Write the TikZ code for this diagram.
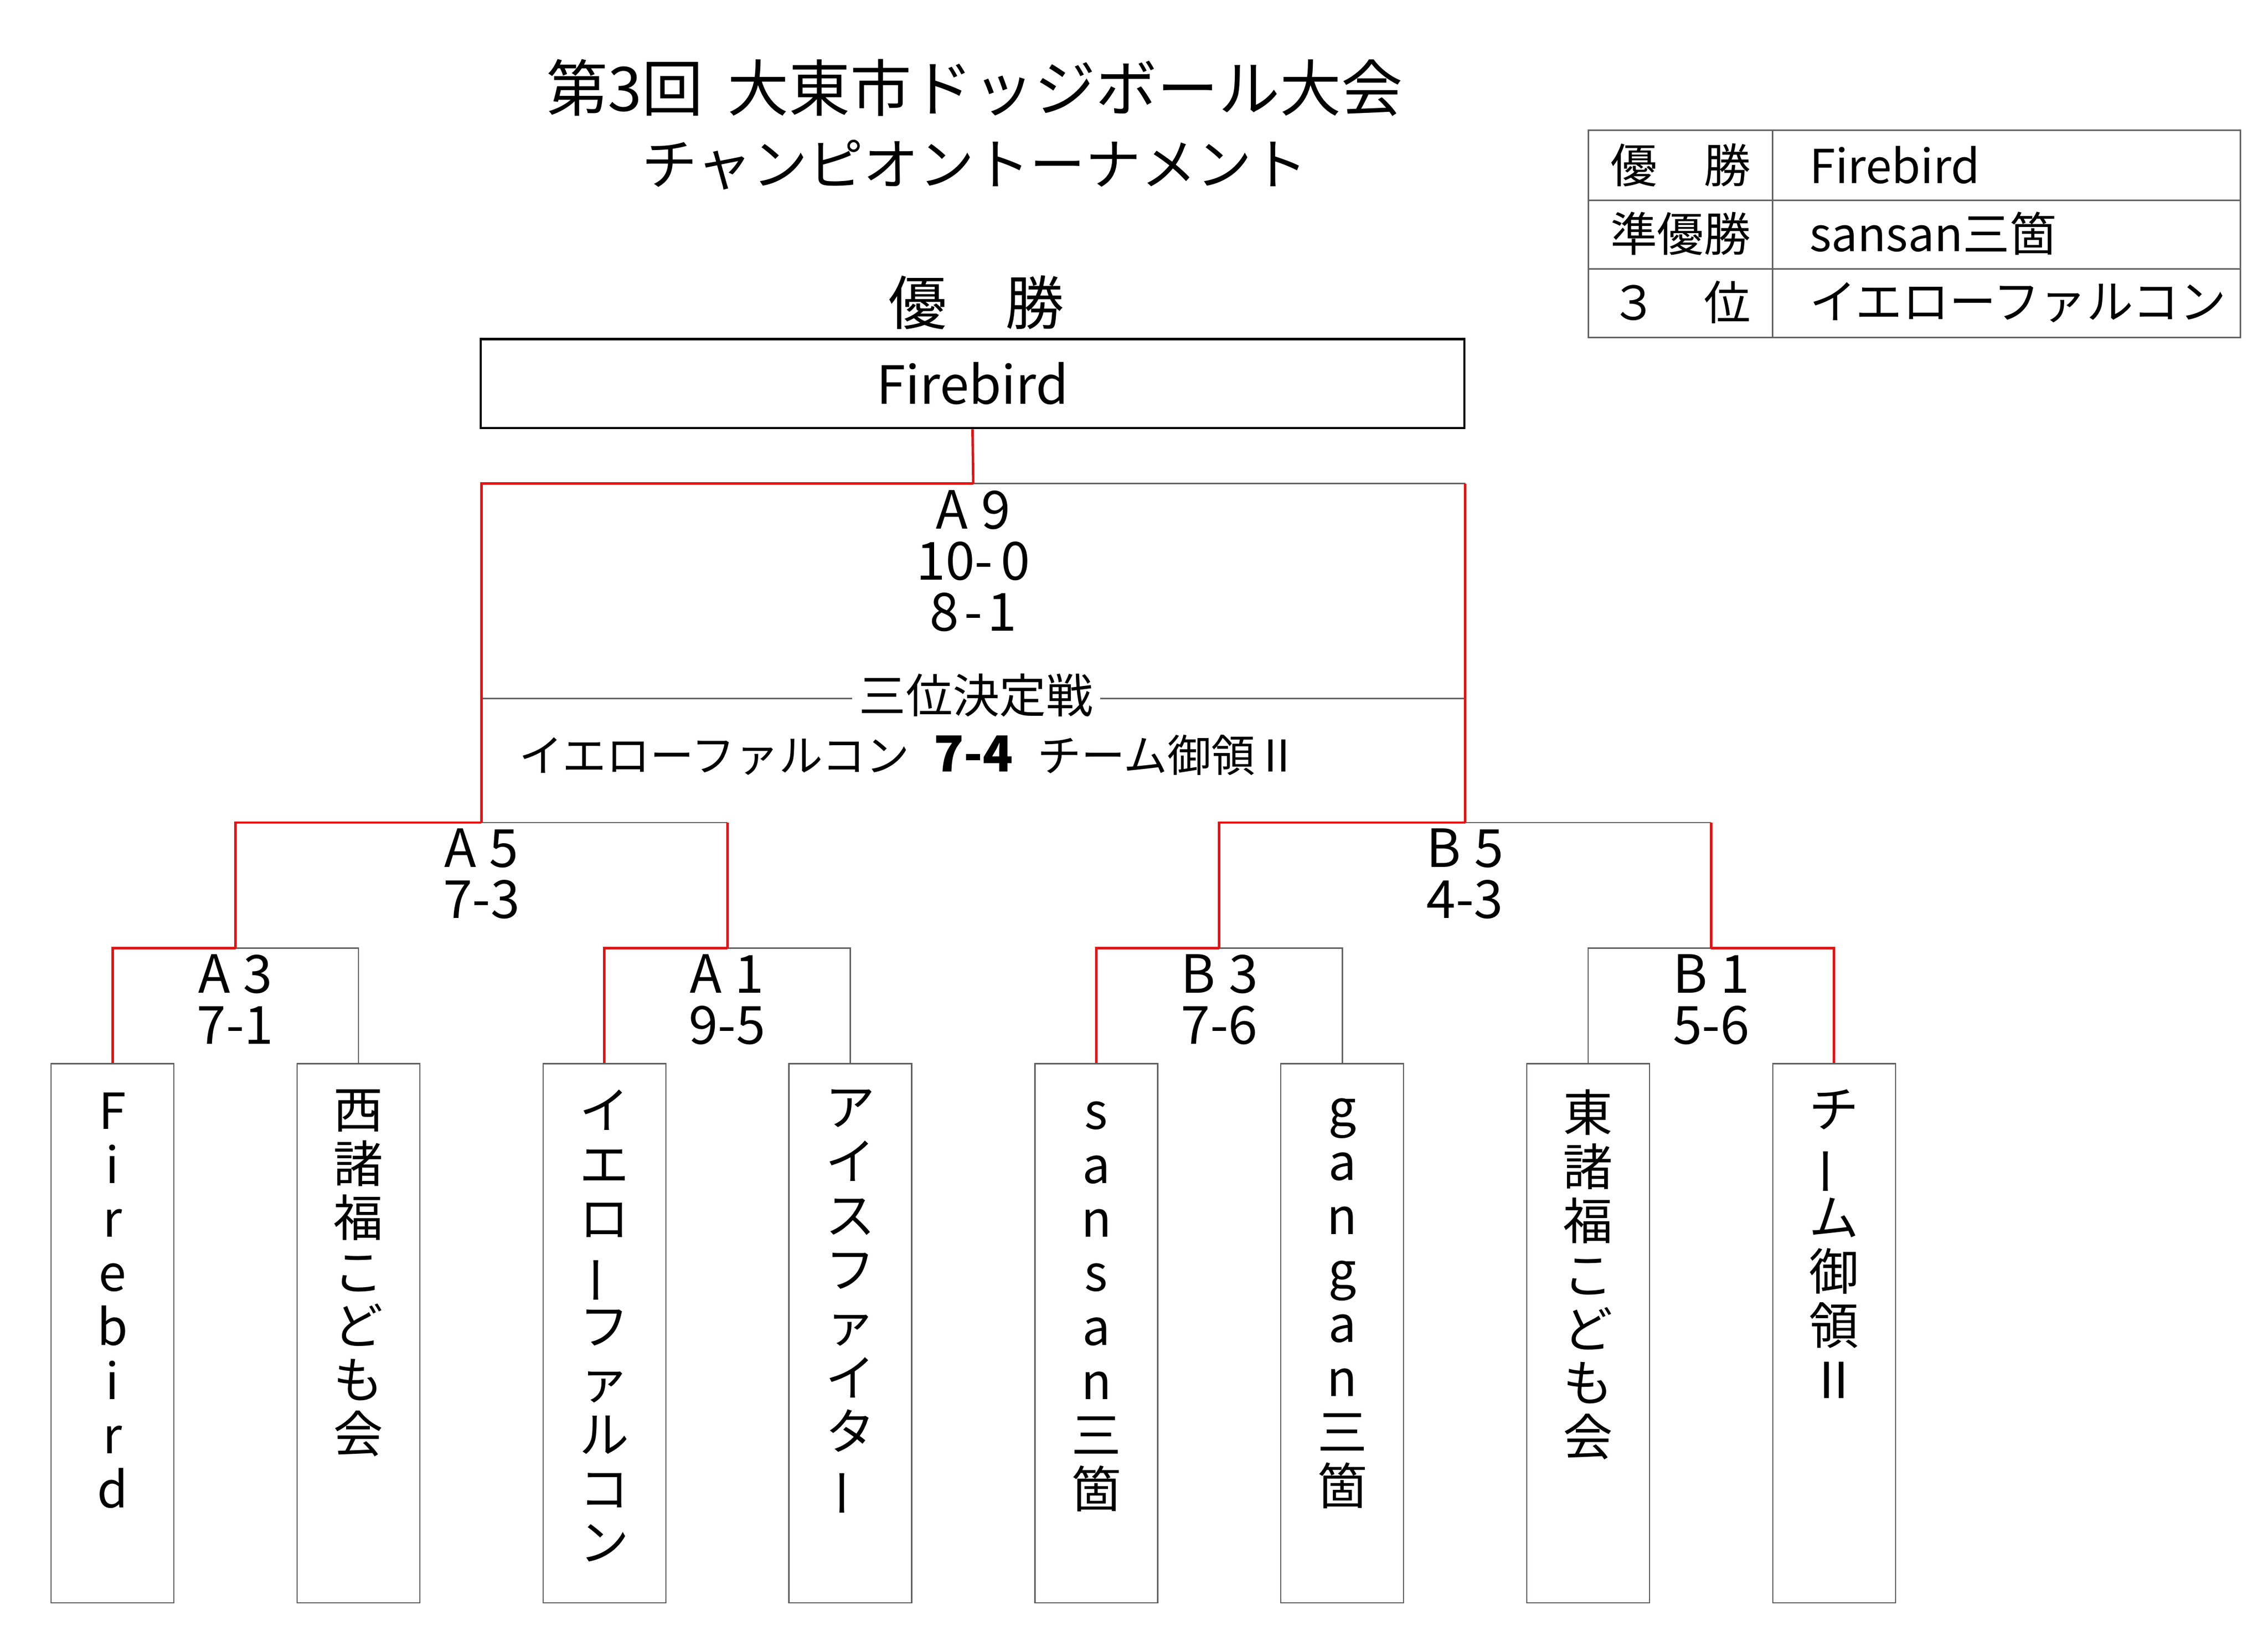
\documentclass[tikz,border=0pt]{standalone}
\usepackage{fontspec}
\setmainfont{Noto Sans CJK JP}
\usepackage{graphicx}
\definecolor{winred}{RGB}{225,20,20}
\definecolor{linegray}{RGB}{100,100,100}
\definecolor{boxgray}{RGB}{95,95,95}
\newcommand{\tatebo}{\rotatebox[origin=c]{90}{ー}}
\newcommand{\romtwo}{{\addfontfeatures{RawFeature=+fwid}Ⅱ}}
\begin{document}
\begin{tikzpicture}[x=1pt,y=-1pt,
  teambox/.style={draw=boxgray, line width=0.8pt, minimum width=84pt, minimum height=369pt, inner sep=0pt},
  teamtext/.style={font=\fontsize{34}{37}\selectfont, align=center, anchor=north, inner sep=0pt},
  lose/.style={draw=linegray, line width=0.9pt},
  win/.style={draw=winred, line width=1.7pt},
  matchlbl/.style={font=\fontsize{36}{35}\selectfont, align=center, inner sep=0pt},
  tbl/.style={font=\fontsize{32}{32}\selectfont, inner sep=0pt}]
\useasboundingbox[fill=white] (0,0) rectangle (1552,1123);

% titles
\node[font=\fontsize{42}{42}\selectfont, inner sep=0pt] (title1) at (667,60) {第3回\hspace{0.4em}大東市ドッジボール大会};
\node[font=\fontsize{38}{38}\selectfont, inner sep=0pt] (title2) at (667,113) {チャンピオントーナメント};

% result table
\draw[draw=linegray, line width=1pt] (1087,89) rectangle (1533,231);
\draw[draw=linegray, line width=1pt] (1087,137) -- (1533,137);
\draw[draw=linegray, line width=1pt] (1087,184) -- (1533,184);
\draw[draw=linegray, line width=1pt] (1213,89) -- (1213,231);
\node[tbl] (r1a) at (1150,113) {優　勝};
\node[tbl] (r2a) at (1150,160) {準優勝};
\node[tbl] (r3a) at (1150,207) {３　位};
\node[tbl, anchor=west] (r1b) at (1238,113) {Firebird};
\node[tbl, anchor=west] (r2b) at (1238,160) {sansan三箇};
\node[tbl, anchor=west] (r3b) at (1238,207) {イエローファルコン};

% champion
\node[font=\fontsize{40}{40}\selectfont, inner sep=0pt] (champlbl) at (668,207) {優　勝};
\node[draw=black, line width=1.6pt, minimum width=673pt, minimum height=61pt, inner sep=0pt,
      font=\fontsize{36}{36}\selectfont] (champ) at (665.5,262.5) {Firebird};

% team boxes
\node[teambox] (t1) at (77,912.5) {};
\node[teambox] (t2) at (245.3,912.5) {};
\node[teambox] (t3) at (413.6,912.5) {};
\node[teambox] (t4) at (581.9,912.5) {};
\node[teambox] (t5) at (750.2,912.5) {};
\node[teambox] (t6) at (918.5,912.5) {};
\node[teambox] (t7) at (1086.8,912.5) {};
\node[teambox] (t8) at (1255.1,912.5) {};

\node[teamtext] (n1) at ([yshift=-20pt]t1.north) {F\\i\\r\\e\\b\\i\\r\\d};
\node[teamtext] (n2) at ([yshift=-18pt]t2.north) {西\\諸\\福\\こ\\ど\\も\\会};
\node[teamtext] (n3) at ([yshift=-18pt]t3.north) {イ\\エ\\ロ\\\tatebo\\フ\\ァ\\ル\\コ\\ン};
\node[teamtext] (n4) at ([yshift=-18pt]t4.north) {ア\\イ\\ス\\フ\\ァ\\イ\\タ\\\tatebo};
\node[teamtext] (n5) at ([yshift=-26pt]t5.north) {s\\a\\n\\s\\a\\n\\三\\箇};
\node[teamtext] (n6) at ([yshift=-24pt]t6.north) {g\\a\\n\\g\\a\\n\\三\\箇};
\node[teamtext] (n7) at ([yshift=-18pt]t7.north) {東\\諸\\福\\こ\\ど\\も\\会};
\node[teamtext] (n8) at ([yshift=-18pt]t8.north) {チ\\\tatebo\\ム\\御\\領\\\romtwo};

% match points
\coordinate (m1) at (161.15,649);
\coordinate (m2) at (497.75,649);
\coordinate (m3) at (834.35,649);
\coordinate (m4) at (1170.95,649);
\coordinate (m5) at (329.45,563);
\coordinate (m6) at (1002.65,563);
\coordinate (m7) at (666,331);
\coordinate (thl) at (329.45,478);
\coordinate (thr) at (1002.65,478);

% match labels
\node[matchlbl] (A3) at (161,684) {A\hspace{0.25em}3\\7-1};
\node[matchlbl] (A1) at (497.5,684) {A\hspace{0.25em}1\\9-5};
\node[matchlbl] (B3) at (834.5,684) {B\hspace{0.25em}3\\7-6};
\node[matchlbl] (B1) at (1171,684) {B\hspace{0.25em}1\\5-6};
\node[matchlbl] (A5) at (329.5,598) {A\hspace{0.25em}5\\7-3};
\node[matchlbl] (B5) at (1002.5,598) {B\hspace{0.25em}5\\4-3};
\node[matchlbl] (A9) at (666,384) {A\hspace{0.25em}9\\10-\hspace{0.15em}0\\8\hspace{0.1em}-\hspace{0.1em}1};

% losing lines (gray)
\draw[lose] (t2.north) |- (m1);
\draw[lose] (t4.north) |- (m2);
\draw[lose] (t6.north) |- (m3);
\draw[lose] (t7.north) |- (m4);
\draw[lose] (m2 |- m5) -- (m5);
\draw[lose] (m4 |- m6) -- (m6);
\draw[lose] (m6 |- m7) -- (m7);
\draw[lose] (thl) -- (thr);

% third-place match
\node[fill=white, inner xsep=5pt, inner ysep=0pt, font=\fontsize{32}{32}\selectfont] (third) at (668,476) {三位決定戦};
\node[inner sep=0pt, font=\fontsize{30}{30}\selectfont] (thirdres) at (622,517)
  {イエローファルコン\hspace{0.55em}{\fontsize{34}{34}\selectfont\bfseries 7-4}\hspace{0.55em}チーム御領\romtwo};

% winning lines (red)
\draw[win] (t1.north) |- (m1);
\draw[win] (t3.north) |- (m2);
\draw[win] (t5.north) |- (m3);
\draw[win] (t8.north) |- (m4);
\draw[win] (m1) |- (m5);
\draw[win] (m2) -- (m2 |- m5);
\draw[win] (m3) |- (m6);
\draw[win] (m4) -- (m4 |- m6);
\draw[win] (m5) |- (m7);
\draw[win] (m6) -- (m6 |- m7);
\draw[win] (m7) -- (champ.south);
\end{tikzpicture}
\end{document}
